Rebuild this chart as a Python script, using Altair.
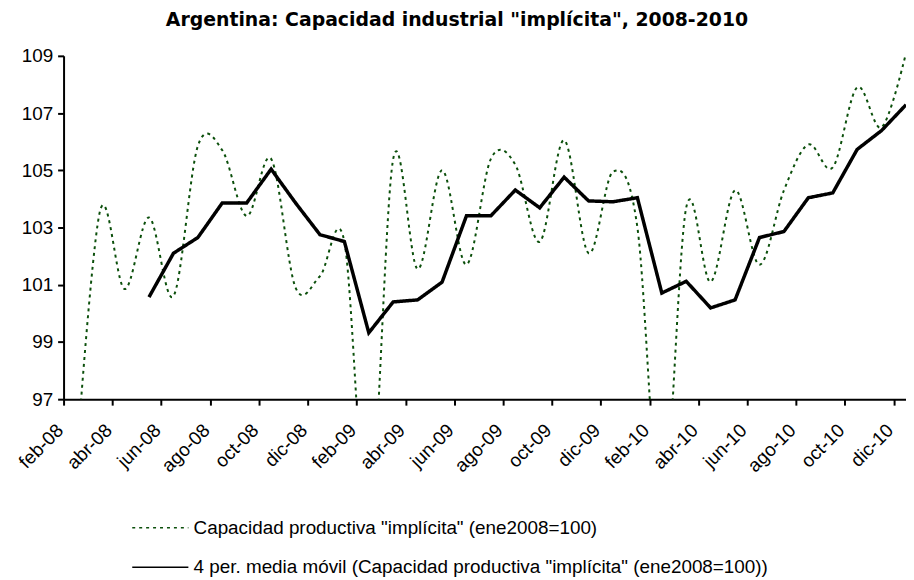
import altair as alt
import pandas as pd

# Monthly series, feb-08 .. dic-10
months = ["feb-08","mar-08","abr-08","may-08","jun-08","jul-08","ago-08","sep-08","oct-08","nov-08","dic-08",
          "ene-09","feb-09","mar-09","abr-09","may-09","jun-09","jul-09","ago-09","sep-09","oct-09","nov-09","dic-09",
          "ene-10","feb-10","mar-10","abr-10","may-10","jun-10","jul-10","ago-10","sep-10","oct-10","nov-10","dic-10"]
capacidad = [94.5, 103.6, 100.85, 103.35, 100.6, 105.85, 105.7, 103.4, 105.4, 100.9, 101.3,
             102.5, 92.6, 105.4, 101.55, 105.0, 101.7, 105.4, 105.2, 102.5, 106.05, 102.1, 104.95,
             103.0, 92.8, 103.7, 101.1, 104.3, 101.7, 104.3, 105.9, 105.1, 107.9, 106.5, 109.1]
# 4-period moving average (from may-08)
media_movil = [100.57, 102.10, 102.65, 103.86, 103.86, 105.04, 103.86, 102.75, 102.51, 99.32, 100.40,
               100.47, 101.09, 103.41, 103.41, 104.31, 103.69, 104.76, 103.93, 103.90, 104.04, 100.71,
               101.12, 100.19, 100.47, 102.65, 102.86, 104.04, 104.21, 105.73, 106.39, 107.29]
tick_labels = ["feb-08","abr-08","jun-08","ago-08","oct-08","dic-08","feb-09","abr-09","jun-09",
               "ago-09","oct-09","dic-09","feb-10","abr-10","jun-10","ago-10","oct-10","dic-10"]
y_ticks = [97, 99, 101, 103, 105, 107, 109]

s1 = 'Capacidad productiva "implícita" (ene2008=100)'
s2 = '4 per. media móvil (Capacidad productiva "implícita" (ene2008=100))'

rows = []
for i, v in enumerate(capacidad):
    rows.append({"t": i + 0.5, "v": v, "serie": s1})
off = len(capacidad) - len(media_movil)
for j, v in enumerate(media_movil):
    rows.append({"t": j + off + 0.5, "v": v, "serie": s2})
df = pd.DataFrame(rows)

label_arr = "[" + ",".join("'%s'" % l for l in tick_labels) + "]"
FONT = "Liberation Sans"

x = alt.X("t:Q", scale=alt.Scale(domain=[0, 34.5], nice=False, zero=False),
          axis=alt.Axis(values=list(range(0, 35, 2)), labelExpr=label_arr + "[round(datum.value/2)]",
                        title=None, grid=False, labelAngle=315, labelAlign="right", labelBaseline="middle",
                        labelFontSize=19, labelFont=FONT, labelColor="black", tickColor="black",
                        domainColor="black", domainWidth=2, tickWidth=2, tickSize=6, labelPadding=22,
                        labelOffset=-4, labelOverlap=False, labelFlush=False))
y = alt.Y("v:Q", scale=alt.Scale(domain=[97, 109], nice=False, zero=False),
          axis=alt.Axis(values=y_ticks, title=None, grid=False, labelFontSize=19, labelFont=FONT,
                        labelColor="black", tickColor="black", domainColor="black", domainWidth=2,
                        tickWidth=2, tickSize=6, labelPadding=5))

color = alt.Color("serie:N", scale=alt.Scale(domain=[s1, s2], range=["#0b4f0b", "#000000"]),
                  legend=alt.Legend(title=None, orient="none", legendX=68, legendY=446, direction="vertical",
                                    symbolType="stroke", symbolSize=3200, labelFontSize=19, labelFont=FONT,
                                    labelColor="black", rowPadding=-12, labelOffset=4, labelLimit=900))
dash = alt.StrokeDash("serie:N", scale=alt.Scale(domain=[s1, s2], range=[[3, 4], [1, 0]]), legend=None)

green = alt.Chart(df).transform_filter(alt.datum.serie == s1).mark_line(
    interpolate="cardinal", strokeWidth=2, clip=True).encode(x=x, y=y, color=color, strokeDash=dash)
black = alt.Chart(df).transform_filter(alt.datum.serie == s2).mark_line(
    strokeWidth=3.5, clip=True).encode(x=x, y=y, color=color, strokeDash=dash)

chart = alt.layer(green, black).properties(
    width=849, height=346,
    title=alt.TitleParams('Argentina: Capacidad industrial "implícita", 2008-2010', font="DejaVu Sans",
                          fontSize=19, fontWeight="bold", color="black", dx=-28, offset=17),
    autosize=alt.AutoSizeParams(type="none"),
    padding={"left": 56, "top": 46, "right": 0, "bottom": 180},
).configure_view(stroke=None)

chart.save("out.html", embed_options={"renderer": "svg", "actions": False})
